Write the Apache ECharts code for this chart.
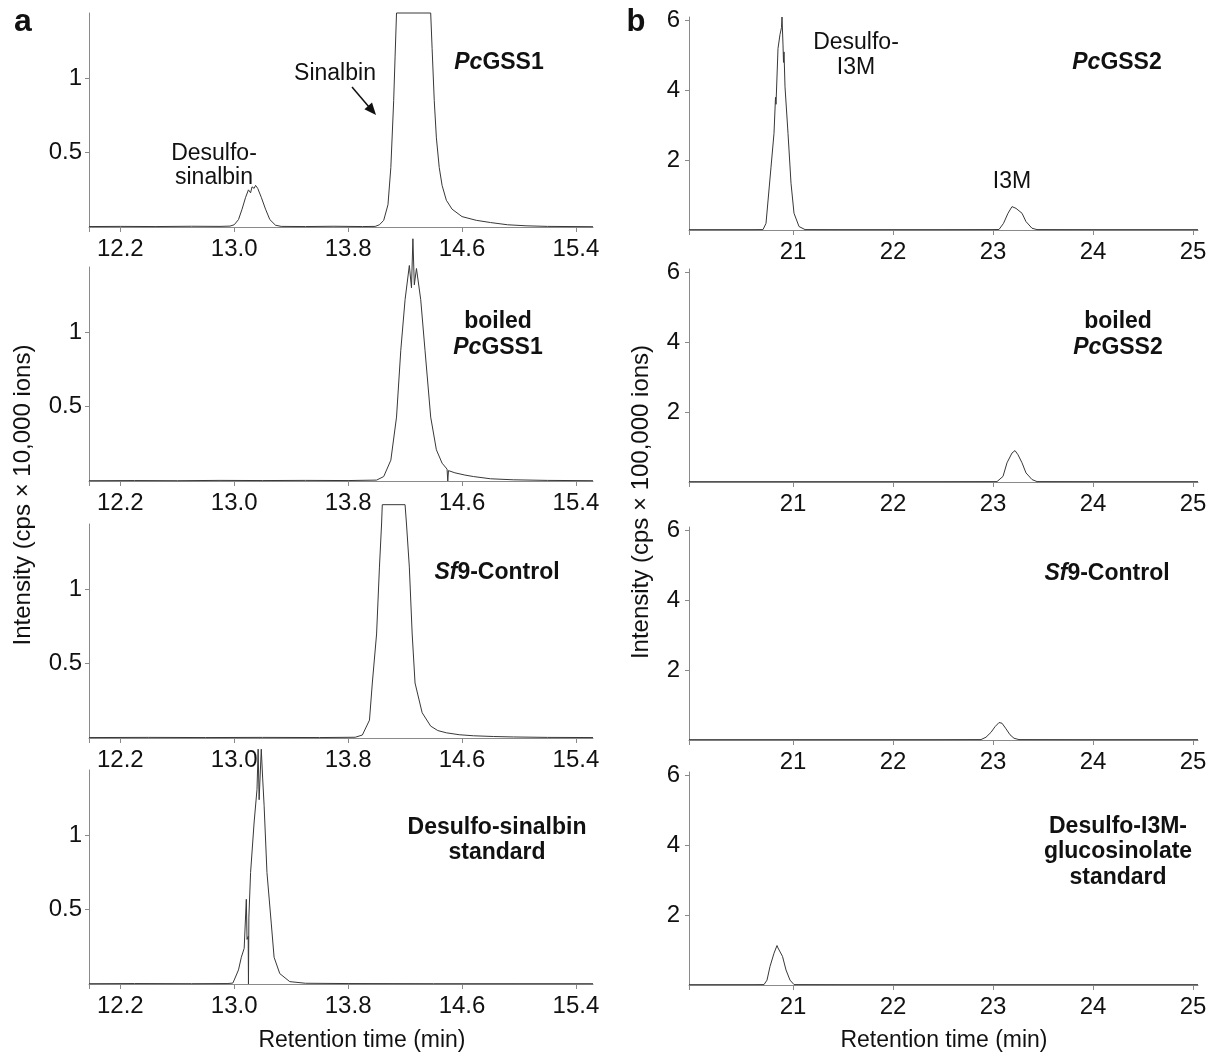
<!DOCTYPE html>
<html>
<head>
<meta charset="utf-8">
<script src="https://cdn.jsdelivr.net/npm/echarts@6/dist/echarts.min.js"></script>
<style>
  html, body { margin: 0; padding: 0; background: #fff; }
  #chart { width: 1213px; height: 1057px; }
</style>
</head>
<body>
<div id="chart"></div>
<script>
// tick values
const sinalbinTicks = [12.2, 13.0, 13.8, 14.6, 15.4]
const i3mTicks = [21, 22, 23, 24, 25]
const sinalbinIntTicks = [0.5, 1]
const i3mIntTicks = [2, 4, 6]

// traces: [retention time (min), intensity]
const gss1 = [
  [11.98, 0.003], [12.2, 0.004], [12.45, 0.003], [12.7, 0.005], [12.9, 0.004], [12.97, 0.006],
  [13.0, 0.015], [13.03, 0.05], [13.055, 0.12], [13.08, 0.2], [13.1, 0.25], [13.115, 0.23],
  [13.125, 0.27], [13.14, 0.26], [13.15, 0.28], [13.165, 0.26], [13.19, 0.2], [13.22, 0.12],
  [13.25, 0.05], [13.29, 0.012], [13.33, 0.004], [13.5, 0.003], [13.7, 0.005], [13.9, 0.003],
  [13.99, 0.004], [14.02, 0.015], [14.05, 0.045], [14.08, 0.15], [14.1, 0.4], [14.12, 0.85],
  [14.13, 1.15], [14.14, 1.44], [14.38, 1.44], [14.39, 1.2], [14.405, 0.85], [14.42, 0.6],
  [14.44, 0.4], [14.46, 0.28], [14.49, 0.18], [14.53, 0.12], [14.6, 0.07], [14.7, 0.045],
  [14.8, 0.03], [14.92, 0.015], [15.05, 0.008], [15.2, 0.004], [15.52, 0.002]
]
const boiledGss1 = [
  [11.98, 0.002], [12.3, 0.003], [12.6, 0.002], [12.9, 0.004], [13.2, 0.003], [13.5, 0.004],
  [13.8, 0.003], [14.0, 0.006], [14.05, 0.03], [14.1, 0.14], [14.14, 0.43], [14.17, 0.88],
  [14.2, 1.22], [14.23, 1.45], [14.245, 1.3], [14.255, 1.63], [14.265, 1.32], [14.28, 1.43],
  [14.31, 1.22], [14.34, 0.88], [14.38, 0.43], [14.42, 0.21], [14.46, 0.12], [14.495, 0.08],
  [14.5, 0.0], [14.505, 0.07], [14.55, 0.055], [14.62, 0.04], [14.68, 0.03], [14.8, 0.015],
  [14.96, 0.008], [15.2, 0.004], [15.52, 0.002]
]
const sf9Sinalbin = [
  [11.98, 0.003], [12.4, 0.004], [12.8, 0.003], [13.2, 0.004], [13.6, 0.003], [13.85, 0.005],
  [13.9, 0.02], [13.95, 0.12], [13.97, 0.37], [14.0, 0.7], [14.02, 1.15], [14.035, 1.44],
  [14.04, 1.57], [14.2, 1.57], [14.21, 1.44], [14.23, 1.15], [14.25, 0.7], [14.27, 0.37],
  [14.32, 0.17], [14.38, 0.08], [14.43, 0.05], [14.49, 0.035], [14.58, 0.022], [14.68, 0.015],
  [14.82, 0.01], [14.96, 0.007], [15.2, 0.004], [15.52, 0.003]
]
const sinalbinStd = [
  [11.98, 0.002], [12.3, 0.003], [12.7, 0.002], [12.95, 0.003], [12.99, 0.006], [13.0, 0.027],
  [13.03, 0.095], [13.05, 0.18], [13.07, 0.24], [13.085, 0.57], [13.09, 0.3], [13.098, 0.32],
  [13.1, 0.0], [13.103, 0.45], [13.115, 0.75], [13.14, 1.09], [13.16, 1.31], [13.168, 1.58],
  [13.175, 1.24], [13.19, 1.58], [13.2, 1.38], [13.21, 1.2], [13.23, 0.75], [13.26, 0.41],
  [13.28, 0.18], [13.32, 0.07], [13.39, 0.016], [13.5, 0.005], [13.8, 0.003], [14.4, 0.002],
  [15.0, 0.002], [15.52, 0.002]
]
const gss2 = [
  [19.96, 0.01], [20.3, 0.01], [20.6, 0.01], [20.7, 0.012], [20.73, 0.19], [20.78, 1.8],
  [20.81, 2.77], [20.825, 3.8], [20.83, 3.6], [20.85, 5.2], [20.87, 5.6], [20.885, 5.8],
  [20.89, 6.1], [20.9, 5.3], [20.905, 4.8], [20.91, 5.1], [20.92, 4.1], [20.95, 2.77],
  [20.98, 1.34], [21.01, 0.48], [21.06, 0.1], [21.12, 0.012], [21.5, 0.01], [22.0, 0.01],
  [22.5, 0.01], [23.0, 0.012], [23.06, 0.015], [23.105, 0.19], [23.15, 0.48], [23.19, 0.67],
  [23.21, 0.72], [23.23, 0.62], [23.25, 0.67], [23.29, 0.48], [23.33, 0.24], [23.39, 0.05],
  [23.44, 0.012], [24.0, 0.01], [24.5, 0.01], [25.05, 0.01]
]
const boiledGss2 = [
  [19.96, 0.01], [20.5, 0.01], [21.0, 0.01], [21.5, 0.01], [22.0, 0.01], [22.5, 0.01],
  [23.04, 0.012], [23.1, 0.16], [23.14, 0.55], [23.19, 0.83], [23.22, 0.9], [23.25, 0.78],
  [23.29, 0.55], [23.33, 0.26], [23.39, 0.07], [23.44, 0.012], [24.0, 0.01], [24.5, 0.01],
  [25.05, 0.01]
]
const sf9I3m = [
  [19.96, 0.01], [20.5, 0.01], [21.0, 0.01], [21.5, 0.01], [22.0, 0.01], [22.5, 0.01],
  [22.88, 0.012], [22.93, 0.08], [22.98, 0.22], [23.02, 0.38], [23.06, 0.5], [23.09, 0.48],
  [23.13, 0.32], [23.17, 0.15], [23.21, 0.05], [23.26, 0.012], [23.8, 0.01], [24.4, 0.01],
  [25.05, 0.01]
]
const i3mStd = [
  [19.96, 0.01], [20.3, 0.01], [20.6, 0.01], [20.71, 0.012], [20.74, 0.14], [20.77, 0.53],
  [20.81, 0.91], [20.84, 1.13], [20.85, 1.06], [20.865, 1.1], [20.895, 0.82], [20.93, 0.43],
  [20.97, 0.14], [21.01, 0.012], [21.5, 0.01], [22.0, 0.01], [22.5, 0.01], [23.0, 0.01],
  [23.5, 0.01], [24.0, 0.01], [24.5, 0.01], [25.05, 0.01]
]

const font = 'Liberation Sans, Arial, sans-serif'
const ink = '#111'

const panels = [
  { data: gss1, col: 0, top: 13 },
  { data: boiledGss1, col: 0, top: 267 },
  { data: sf9Sinalbin, col: 0, top: 524 },
  { data: sinalbinStd, col: 0, top: 770 },
  { data: gss2, col: 1, top: 17 },
  { data: boiledGss2, col: 1, top: 269 },
  { data: sf9I3m, col: 1, top: 527 },
  { data: i3mStd, col: 1, top: 772 }
]

const cols = [
  { left: 89, width: 504, height: 214, xmin: 11.98, xmax: 15.52, xt: sinalbinTicks, ymax: 1.44, yt: sinalbinIntTicks, fmt: v => v.toFixed(1), ym: 7 },
  { left: 689, width: 509, height: 213, xmin: 19.96, xmax: 25.05, xt: i3mTicks, ymax: 6.1, yt: i3mIntTicks, fmt: v => String(v), ym: 9 }
]

const grids = [], xAxes = [], yAxes = [], series = []
panels.forEach((p, i) => {
  const c = cols[p.col]
  grids.push({ left: c.left, top: p.top, width: c.width, height: c.height })
  xAxes.push({
    type: 'value', gridIndex: i, min: c.xmin, max: c.xmax,
    axisLine: { show: true, onZero: false, lineStyle: { color: '#8a8a8a', width: 1 } },
    axisTick: { show: true, length: 5, customValues: [c.xmin].concat(c.xt), lineStyle: { color: '#8a8a8a' } },
    axisLabel: { customValues: c.xt, formatter: c.fmt, color: ink, fontSize: 24, fontFamily: font, margin: 10 },
    splitLine: { show: false }
  })
  yAxes.push({
    type: 'value', gridIndex: i, min: 0, max: c.ymax,
    axisLine: { show: true, lineStyle: { color: '#8a8a8a', width: 1 } },
    axisTick: { show: true, length: 4, customValues: c.yt, lineStyle: { color: '#8a8a8a' } },
    axisLabel: { customValues: c.yt, color: ink, fontSize: 24, fontFamily: font, margin: c.ym },
    splitLine: { show: false }
  })
  series.push({
    type: 'line', xAxisIndex: i, yAxisIndex: i, data: p.data,
    symbol: 'none', clip: false, silent: true,
    lineStyle: { color: '#383838', width: 1 }
  })
})

const rich = {
  i: { fontStyle: 'italic', fontWeight: 'bold', fontSize: 23, fontFamily: font, fill: ink },
  b: { fontWeight: 'bold', fontSize: 23, fontFamily: font, fill: ink }
}
function label (x, y, text, opts) {
  return {
    type: 'text', x, y, silent: true,
    rotation: (opts && opts.rotation) || 0,
    style: Object.assign({
      text, fontSize: 23, fontFamily: font, fill: ink,
      align: 'center', verticalAlign: 'middle', lineHeight: 25, rich
    }, opts && opts.style)
  }
}

const graphic = [
  label(23, 22, 'a', { style: { fontSize: 32, fontWeight: 'bold' } }),
  label(636, 22, 'b', { style: { fontSize: 31, fontWeight: 'bold' } }),
  label(214, 166, 'Desulfo-\nsinalbin', { style: { lineHeight: 24 } }),
  label(335, 74, 'Sinalbin'),
  { type: 'line', silent: true, shape: { x1: 352, y1: 87, x2: 369, y2: 107 }, style: { stroke: '#111', lineWidth: 1.5 } },
  { type: 'polygon', silent: true, shape: { points: [[376, 115], [364.4, 109.2], [372, 102.6]] }, style: { fill: '#111' } },
  label(499, 63, '{i|Pc}{b|GSS1}'),
  label(856, 55, 'Desulfo-\nI3M'),
  label(1012, 182, 'I3M'),
  label(1117, 63, '{i|Pc}{b|GSS2}'),
  label(498, 335, '{b|boiled}\n{i|Pc}{b|GSS1}', { style: { lineHeight: 26 } }),
  label(1118, 335, '{b|boiled}\n{i|Pc}{b|GSS2}', { style: { lineHeight: 26 } }),
  label(497, 573, '{i|Sf}{b|9-Control}'),
  label(1107, 574, '{i|Sf}{b|9-Control}'),
  label(497, 840, '{b|Desulfo-sinalbin}\n{b|standard}', { style: { lineHeight: 25 } }),
  label(1118, 852, '{b|Desulfo-I3M-}\n{b|glucosinolate}\n{b|standard}', { style: { lineHeight: 25.5 } }),
  label(362, 1041, 'Retention time (min)'),
  label(944, 1041, 'Retention time (min)'),
  label(23, 495, 'Intensity (cps \u00d7 10,000 ions)', { rotation: Math.PI / 2, style: { fontSize: 24 } }),
  label(641, 502, 'Intensity (cps \u00d7 100,000 ions)', { rotation: Math.PI / 2, style: { fontSize: 24 } })
]

const chart = echarts.init(document.getElementById('chart'))
chart.setOption({
  animation: false,
  backgroundColor: '#fff',
  grid: grids,
  xAxis: xAxes,
  yAxis: yAxes,
  series,
  graphic
})
</script>
</body>
</html>
